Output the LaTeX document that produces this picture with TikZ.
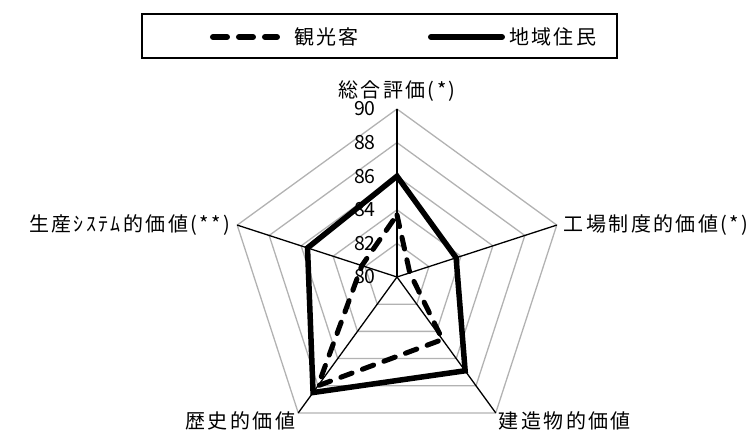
\documentclass[tikz,border=0pt]{standalone}
\usepackage{fontspec}
\newfontfamily\jpfont[LetterSpace=12]{Noto Sans CJK JP}
\newfontfamily\numfont{Noto Sans CJK JP}
\usetikzlibrary{positioning}

\tikzset{
  ring/.style={draw=gray!60, line width=1.3pt},
  spoke/.style={draw=black, line width=1.3pt},
  visitor/.style={line width=5pt, dash pattern=on 12pt off 11pt, line cap=round},
  resident/.style={line width=5.5pt},
  axislabel/.style={font={\jpfont\fontsize{20}{24}\selectfont}, inner sep=3pt},
  ticklabel/.style={font={\numfont\fontsize{19.5}{21}\selectfont}, anchor=east, inner sep=0pt},
  legendbox/.style={draw=black, line width=1.6pt, minimum width=475pt, minimum height=44pt},
}

\begin{document}
\begin{tikzpicture}[x=1pt,y=1pt]
  \useasboundingbox (-397,-155) rectangle (359,277);
  % axis end points
  \coordinate (c) at (0,0);
  \foreach \n in {1,...,5} {
    \pgfmathsetmacro{\ang}{162-72*\n}
    \coordinate (ax\n) at (\ang:168);
  }
  % grid rings
  \foreach \v in {82,84,86,88,90} {
    \pgfmathsetmacro{\rr}{(\v-80)*16.8}
    \draw[ring] (90:\rr) -- (18:\rr) -- (-54:\rr) -- (-126:\rr) -- (162:\rr) -- cycle;
  }
  % spokes
  \foreach \n in {1,...,5} {
    \draw[spoke] (c) -- (ax\n);
  }
  % tick labels
  \foreach \v in {80,82,...,90} {
    \pgfmathsetmacro{\rr}{(\v-80)*16.8}
    \node[ticklabel] (tick\v) at (-21,\rr) {\v};
  }
  % axis labels
  \node[axislabel, anchor=south] (lbl1) at ([yshift=4pt]ax1) {総合評価(*)};
  \node[axislabel, anchor=west] (lbl2) at ([xshift=4pt]ax2) {工場制度的価値(*)};
  \node[axislabel, anchor=north west] (lbl3) at ([yshift=4pt]ax3) {建造物的価値};
  \node[axislabel, anchor=north east] (lbl4) at ([yshift=4pt]ax4) {歴史的価値};
  \node[axislabel, anchor=east] (lbl5) at ([xshift=-4pt]ax5) {生産ｼｽﾃﾑ的価値(**)};
  % data points
  \foreach \v [count=\n] in {83.7,80.8,84.6,88.0,82.2} {
    \pgfmathsetmacro{\ang}{162-72*\n}
    \pgfmathsetmacro{\rr}{(\v-80)*16.8}
    \coordinate (vis\n) at (\ang:\rr);
  }
  \foreach \v [count=\n] in {86.0,83.7,86.9,88.5,85.6} {
    \pgfmathsetmacro{\ang}{162-72*\n}
    \pgfmathsetmacro{\rr}{(\v-80)*16.8}
    \coordinate (res\n) at (\ang:\rr);
  }
  \draw[visitor] (vis1) -- (vis2) -- (vis3) -- (vis4) -- (vis5) -- cycle;
  \draw[resident] (res1) -- (res2) -- (res3) -- (res4) -- (res5) -- cycle;
  % legend
  \node[legendbox] (legend) at (-17.5,241) {};
  \node[axislabel, anchor=west] (lgvis) at (-106,240) {観光客};
  \node[axislabel, anchor=west] (lgres) at (109,240) {地域住民};
  \coordinate (lgvisA) at (-184,240);
  \coordinate (lgresA) at (34,240);
  \draw[visitor, line width=6pt, dash pattern=on 14pt off 12pt] (lgvisA) -- ([xshift=-14pt]lgvis.west);
  \draw[resident, line width=6pt, line cap=round] (lgresA) -- ([xshift=-4pt]lgres.west);
\end{tikzpicture}
\end{document}
